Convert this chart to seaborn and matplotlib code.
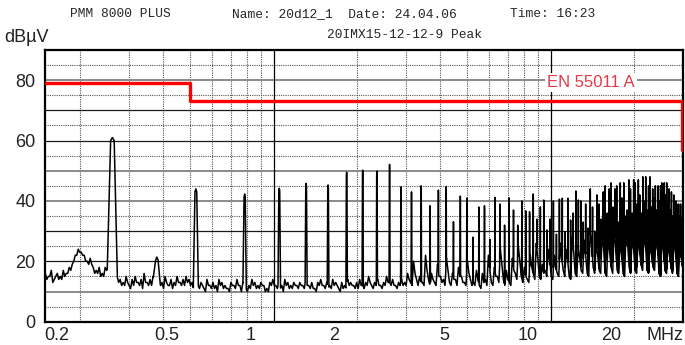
import numpy as np
import pandas as pd
import matplotlib
matplotlib.use("Agg")
import matplotlib.pyplot as plt
import seaborn as sns
from matplotlib.transforms import ScaledTranslation
from matplotlib.ticker import NullLocator, FixedLocator, FixedFormatter

# ---------------- data ----------------
sweep_start_mhz = 0.15
sweep_stop_mhz = 30.0

# noise floor, upper samples (dBuV), equally spaced in log-frequency over the sweep
noise_floor_db = [
    16, 15, 17, 14, 16, 15, 17, 16,
    18, 19, 22, 24,
    23, 22, 20, 21, 18, 17, 18, 16, 18,
    18, 18, 18,
    15, 14,
    13, 15, 12, 14, 15, 13, 14, 16, 13, 14, 15,
    15,
    14, 13, 15, 12, 14, 13, 15, 13, 14, 15, 14,
    13, 14, 12, 13, 11, 14, 12, 13, 12, 14, 13, 12, 11, 13, 12, 14, 12, 13,
    11, 12, 14, 13, 12, 13, 12, 11, 13, 14, 12, 13, 12, 14, 13, 12, 13, 12,
    13, 12, 14, 12, 13, 11, 13, 14, 12, 13, 12, 14, 13, 11, 13, 12, 14,
    13, 12, 13, 14, 12, 13, 15, 12, 13, 14, 12, 13, 15, 13, 14, 12, 13,
    14, 13, 16, 13, 20, 14, 15, 13, 22, 14, 16, 13, 19, 15, 14, 21, 13, 16,
    14, 18, 15, 13, 20,
    14, 13, 17, 12, 16, 14, 22, 13, 18, 15, 24, 14, 17, 13, 21, 16, 25, 15,
    18, 14, 22, 16, 26, 15, 19, 17, 24,
    15, 22, 16, 26, 17, 24, 15, 28, 16, 25, 17, 27, 16, 30, 18, 26, 17, 29,
    16, 28, 18, 30, 17, 27, 16, 31, 18, 29, 17, 28, 19, 30, 17, 27, 18, 29,
    16, 28, 17, 26, 18, 27, 16, 25, 17,
]

# noise floor, lower samples (dBuV), taken half-way between the upper samples
noise_floor_low_db = [
    14, 15, 13, 15, 14, 14, 15, 16,
    17, 20, 22, 23,
    22, 20, 19, 19, 16, 16, 15, 15,
    17, 18, 18, 16,
    13, 12,
    12, 13, 11, 12, 13, 12, 11, 13, 12, 12, 13,
    13,
    12, 11, 13, 12, 11, 12, 13, 12, 12, 13, 12,
    11, 12, 11, 12, 10, 12, 11, 11, 10, 12, 11, 11, 10, 12, 11, 12, 10, 11,
    10, 11, 12, 11, 11, 12, 10, 10, 12, 12, 11, 11, 10, 12, 11, 11, 12, 11,
    12, 11, 12, 11, 11, 10, 12, 12, 11, 11, 11, 12, 12, 10, 11, 11, 12,
    12, 11, 11, 12, 11, 12, 13, 11, 12, 12, 11, 12, 13, 12, 12, 11, 12,
    12, 12, 14, 12, 16, 12, 13, 12, 17, 12, 14, 12, 15, 13, 12, 17, 12, 14,
    12, 15, 13, 12, 16,
    12, 12, 14, 11, 13, 12, 17, 12, 15, 13, 19, 12, 14, 12, 17, 14, 20, 13,
    15, 13, 18, 14, 21, 14, 16, 15, 20,
    14, 18, 15, 21, 15, 20, 14, 23, 15, 21, 16, 22, 15, 25, 16, 22, 16, 24,
    15, 23, 16, 25, 16, 22, 15, 26, 16, 24, 16, 23, 17, 25, 16, 22, 17, 24,
    15, 23, 16, 22, 16, 23, 15, 21,
]

# narrow-band emission lines (MHz, dBuV)
line_freq_mhz = [
    0.262, 0.379, 0.524, 0.786, 1.048, 1.31, 1.572, 1.834, 2.096, 2.358, 2.62,
    2.882, 3.144, 3.406, 3.668, 3.93, 4.192, 4.454, 4.716, 4.978, 5.24,
    5.502, 5.764, 6.026, 6.288, 6.55, 6.812, 7.074, 7.336, 7.598, 7.86,
    8.122, 8.384, 8.646, 8.908, 9.17, 9.432, 9.694, 9.956, 10.218, 10.48,
    10.742, 11.004, 11.266, 11.528, 11.79, 12.052, 12.314, 12.576, 12.838, 13.1,
    13.362, 13.624, 13.886, 14.148, 14.41, 14.672, 14.934, 15.196, 15.458, 15.72,
    15.982, 16.244, 16.506, 16.768, 17.03, 17.292, 17.554, 17.816, 18.078, 18.34,
    18.602, 18.864, 19.126, 19.388, 19.65, 19.912, 20.174, 20.436, 20.698, 20.96,
    21.222, 21.484, 21.746, 22.008, 22.27, 22.532, 22.794, 23.056, 23.318, 23.58,
    23.842, 24.104, 24.366, 24.628, 24.89, 25.152, 25.414, 25.676, 25.938, 26.2,
    26.462, 26.724, 26.986, 27.248, 27.51, 27.772, 28.034, 28.296, 28.558, 28.82,
    29.082, 29.344, 29.606, 29.868,
]
line_level_db = [
    61.0, 21.4, 44.0, 42.3, 44.2, 45.8, 45.3, 49.5, 50.2, 49.9, 52.1,
    44.7, 43.0, 45.0, 38.4, 43.6, 44.7, 33.1, 41.6, 40.9, 28.0,
    38.0, 38.4, 27.3, 41.2, 39.0, 32.0, 41.0, 37.0, 32.0, 40.0,
    36.7, 36.4, 42.3, 34.0, 38.0, 40.3, 30.4, 34.0, 40.0, 29.0,
    40.6, 40.9, 29.8, 40.9, 33.7, 36.0, 43.3, 40.3, 40.0, 33.0,
    39.0, 31.0, 44.0, 38.0, 30.0, 42.0, 39.0, 34.0, 43.0, 45.0,
    36.0, 44.0, 46.0, 38.0, 44.0, 45.0, 33.0, 46.0, 41.0, 46.0,
    35.0, 37.0, 47.0, 44.0, 36.0, 47.0, 46.0, 39.0, 47.0, 42.0,
    36.0, 48.0, 40.0, 48.0, 37.0, 45.0, 48.0, 38.0, 44.0, 41.0,
    45.0, 37.0, 45.0, 40.0, 45.0, 46.0, 38.0, 46.0, 42.0, 46.0,
    39.0, 44.0, 37.0, 43.0, 35.0, 42.0, 36.0, 40.0, 33.0, 39.0,
    35.0, 39.0, 34.0, 39.0,
]

# EN 55011 class A limit
limit_freq_mhz = [0.15, 0.5, 0.5, 29.8, 29.8]
limit_level_db = [79, 79, 73, 73, 57]

x_tick_values = [0.2, 0.5, 1, 2, 5, 10, 20]
x_tick_labels = ["0.2", "0.5", "1", "2", "5", "10", "20"]
y_tick_values = [0, 20, 40, 60, 80]

grid_dark_db = [20, 30, 60, 70]
grid_gray_db = [10, 40, 50, 80]
grid_dot_db = [5, 15, 25, 35, 45, 55, 65, 75, 85]
grid_dot_mhz = [0.2, 0.3, 0.4, 0.5, 0.6, 0.7, 0.8, 0.9,
                2, 3, 4, 5, 6, 7, 8, 9, 20]
grid_solid_mhz = [1, 10]

# ---------------- build trace ----------------
floor_f = np.geomspace(sweep_start_mhz, sweep_stop_mhz, len(noise_floor_db))
floor_db = np.asarray(noise_floor_db, dtype=float)
low_f = np.sqrt(floor_f[:-1] * floor_f[1:])
low_db = np.asarray(noise_floor_low_db, dtype=float)

all_f = np.concatenate([floor_f, low_f])
all_db = np.concatenate([floor_db, low_db])
srt = np.argsort(all_f)
all_f, all_db = all_f[srt], all_db[srt]

hw = 0.011  # line half width (MHz), resolution bandwidth shape

keep = np.ones(len(all_f), dtype=bool)
for f in line_freq_mhz:
    keep &= np.abs(all_f - f) > hw

def floor_at(f):
    return float(np.interp(np.log(f), np.log(all_f), all_db))

xs = list(all_f[keep])
ys = list(all_db[keep])
for f, h in zip(line_freq_mhz, line_level_db):
    xs += [f - hw, f - 0.35 * hw, f, f + 0.35 * hw, f + hw]
    ys += [floor_at(f - hw), h - 1.0, h, h - 1.0, floor_at(f + hw)]
order = np.argsort(xs)
trace = pd.DataFrame({"MHz": np.asarray(xs)[order], "dBuV": np.asarray(ys)[order]})
trace = trace[(trace.MHz >= sweep_start_mhz) & (trace.MHz <= sweep_stop_mhz)]
limit = pd.DataFrame({"MHz": limit_freq_mhz, "dBuV": limit_level_db})

# ---------------- plot ----------------
sns.set_style("white")
plt.rcParams["font.family"] = ["Liberation Sans", "DejaVu Sans"]

fig = plt.figure(figsize=(6.85, 3.45), dpi=100)
ax = fig.add_axes([45.3 / 685, 23.3 / 345, 637.7 / 685, 271.7 / 345])
ax.set_xscale("log")
ax.set_xlim(sweep_start_mhz, sweep_stop_mhz)
ax.set_ylim(0, 90)

for v in grid_dot_db:
    ax.axhline(v, color="#555555", lw=0.8, ls=(0, (1, 1)), zorder=0.5)
for v in grid_dark_db:
    ax.axhline(v, color="#1a1a1a", lw=0.9, zorder=0.6)
for v in grid_gray_db:
    ax.axhline(v, color="#8a8a8a", lw=1.4, zorder=0.6)
for v in grid_dot_mhz:
    ax.axvline(v, color="#555555", lw=0.8, ls=(0, (1, 1)), zorder=0.5)
for v in grid_solid_mhz:
    ax.axvline(v, color="#000000", lw=0.9, zorder=0.6)

sns.lineplot(data=trace, x="MHz", y="dBuV", sort=False, estimator=None,
             color="black", lw=1.1, ax=ax, zorder=3)
sns.lineplot(data=limit, x="MHz", y="dBuV", sort=False, estimator=None,
             color="#ff0000", lw=2.4, ax=ax, zorder=4)

ax.text(14.0, 79.3, "EN 55011 A", color="#e23a46", fontsize=12,
        ha="center", va="center", zorder=5,
        bbox=dict(facecolor="white", edgecolor="none", pad=1.5))

ax.set_xlabel("")
ax.set_ylabel("")
ax.xaxis.set_minor_locator(NullLocator())
ax.xaxis.set_major_locator(FixedLocator(x_tick_values))
ax.xaxis.set_major_formatter(FixedFormatter(x_tick_labels))
ax.set_yticks(y_tick_values)
ax.tick_params(axis="both", length=0, labelsize=13, colors="#222222")
ax.tick_params(axis="y", pad=7)
ax.tick_params(axis="x", pad=4)
shift = ScaledTranslation(-0.23, 0, fig.dpi_scale_trans)
for lab in ax.get_xticklabels():
    lab.set_transform(lab.get_transform() + shift)

for s in ax.spines.values():
    s.set_visible(True)
    s.set_color("black")
    s.set_linewidth(1.6)

ax.text(0.972, -0.02, "MHz", transform=ax.transAxes, fontsize=13,
        ha="center", va="top", color="#222222")

mono = ["Liberation Mono", "DejaVu Sans Mono"]
fig.text(70 / 685, 1 - 14 / 345, "PMM 8000 PLUS", family=mono, fontsize=9.3, va="center")
fig.text(232 / 685, 1 - 14 / 345, "Name: 20d12_1  Date: 24.04.06", family=mono, fontsize=9.3, va="center")
fig.text(510 / 685, 1 - 14 / 345, "Time: 16:23", family=mono, fontsize=9.3, va="center")
fig.text(327 / 685, 1 - 35 / 345, "20IMX15-12-12-9 Peak", family=mono, fontsize=9.3, va="center")
fig.text(4 / 685, 1 - 37 / 345, "dB\u00b5V", fontsize=13, va="center", color="#222222")

fig.savefig("out.png", dpi=100)
